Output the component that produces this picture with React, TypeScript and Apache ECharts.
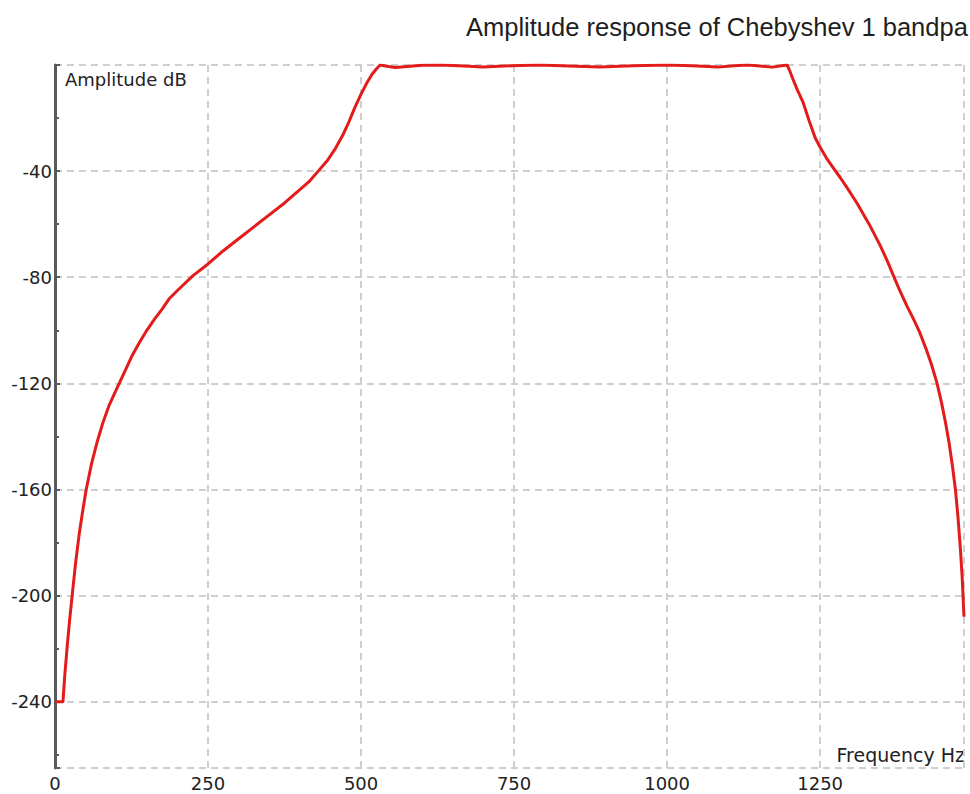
import React, { useEffect, useRef } from "react";
import * as echarts from "echarts";

// Frequency (Hz) and amplitude (dB)
const freqHz = [
  0, 13, 16, 20, 24, 28, 34, 40, 46, 51, 60, 69, 78, 88, 103, 115, 125, 137, 150, 162, 175, 187, 200, 225, 250, 275, 300,
  325, 350, 375, 400, 415, 430, 445, 458, 470, 480, 490, 500, 510, 518, 525, 531,
  545, 556, 575, 600, 629, 660, 699, 745, 792, 840, 890, 945, 1000, 1040, 1082, 1110, 1131, 1152, 1172, 1187, 1196,
  1200, 1205, 1212, 1222, 1232, 1242, 1250, 1260, 1272, 1283, 1296, 1310, 1330, 1348, 1360, 1369, 1380, 1392, 1403,
  1413, 1423, 1432, 1441, 1448, 1455, 1461, 1466, 1471, 1475, 1479, 1482, 1485,
];
const amplitudeDb = [
  -240, -240, -230, -219, -209, -200, -187, -176, -167, -160, -150, -142, -135, -128.5, -121, -115, -110, -105, -100, -96, -92, -88, -85, -79.5, -75, -70, -65.5,
  -61, -56.5, -52, -47, -44, -40, -36, -31.5, -26.5, -21.5, -16, -11, -6.5, -3.5, -1.5, 0,
  -0.6, -0.9, -0.6, -0.1, 0, -0.3, -0.8, -0.3, 0, -0.4, -0.8, -0.3, 0, -0.3, -0.8, -0.3, 0, -0.4, -0.8, -0.3, 0,
  -2, -5, -9, -14, -21, -27.5, -31, -35, -39, -42.5, -47, -52, -60, -68, -74, -79, -85, -91, -96,
  -101, -107, -113, -120, -127, -135, -143, -151, -160, -170, -182, -193, -208,
];

const xTicks = [0, 250, 500, 750, 1000, 1250];
const yTickLabels = [-40, -80, -120, -160, -200, -240];

const titleText = "Amplitude response of Chebyshev 1 bandpa";
const yName = "Amplitude dB";
const xName = "Frequency Hz";

export default function App() {
  const ref = useRef<HTMLDivElement>(null);
  useEffect(() => {
    if (!ref.current) return;
    const chart = echarts.init(ref.current, null, { renderer: "svg" });
    const gridStyle = { color: "#cfcfcf", width: 2, type: [7, 5] as any };
    const labelFont = { fontFamily: "DejaVu Sans", fontSize: 18, color: "#222" };
    chart.setOption({
      animation: false,
      backgroundColor: "#fff",
      title: {
        text: titleText,
        left: 466,
        top: 14,
        padding: 0,
        textStyle: { fontFamily: "Liberation Sans", fontSize: 25.5, fontWeight: "normal", color: "#1e1e1e" },
      },
      grid: { left: 55, right: 6, top: 65, bottom: 26, containLabel: false },
      xAxis: {
        type: "value",
        min: 0,
        max: 1485,
        interval: 250,
        axisLine: { show: false },
        axisTick: { show: false },
        axisLabel: {
          ...labelFont,
          margin: 6,
          showMaxLabel: false,
          formatter: (v: number) => (xTicks.includes(v) ? String(v) : ""),
        },
        splitLine: { show: true, lineStyle: gridStyle },
      },
      yAxis: {
        type: "value",
        inverse: true,
        min: 0,
        max: 265,
        interval: 40,
        axisLine: { show: true, lineStyle: { color: "#5a5a5a", width: 3 } },
        axisTick: { show: true, inside: true, length: 5, lineStyle: { color: "#5a5a5a", width: 2 } },
        minorTick: { show: true, splitNumber: 2, length: 4, lineStyle: { color: "#5a5a5a", width: 2 } },
        axisLabel: {
          ...labelFont,
          margin: 3,
          showMaxLabel: false,
          formatter: (v: number) => (yTickLabels.includes(-v) ? String(-v) : ""),
        },
        splitLine: { show: true, lineStyle: gridStyle },
      },
      graphic: [
        {
          type: "text",
          left: 65,
          top: 70,
          style: { text: yName, fontFamily: "DejaVu Sans", fontSize: 18, fill: "#222" },
        },
        {
          type: "text",
          right: 5,
          top: 745,
          style: { text: xName, fontFamily: "DejaVu Sans", fontSize: 19, fill: "#222" },
        },
      ],
      series: [
        {
          type: "line",
          data: freqHz.map((f, i) => [f, -amplitudeDb[i]]),
          showSymbol: false,
          symbol: "none",
          smooth: false,
          lineStyle: { color: "#e31b1b", width: 3, join: "round" },
        },
      ],
    });
    return () => chart.dispose();
  }, []);
  return <div ref={ref} style={{ position: "fixed", left: 0, top: 0, width: 970, height: 794 }} />;
}
